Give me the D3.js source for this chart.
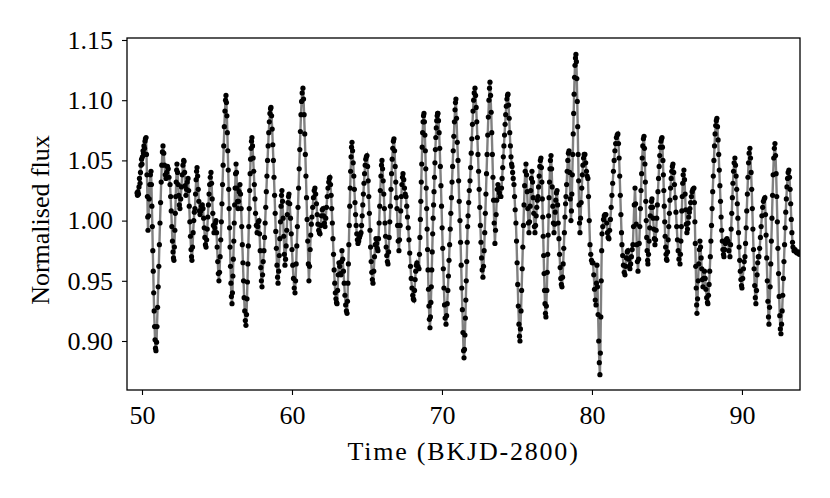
<!DOCTYPE html>
<html><head><meta charset="utf-8">
<script src="https://cdn.jsdelivr.net/npm/d3@7"></script>
<style>body{margin:0;background:#fff} svg{display:block} text{font-family:"Liberation Serif","DejaVu Serif",serif;fill:#000}</style>
</head><body><svg id="chart" width="830" height="498"></svg>
<script>
const xTicks = [50, 60, 70, 80, 90];
const yTicks = [0.90, 0.95, 1.00, 1.05, 1.10, 1.15];
const xLabel = "Time (BKJD-2800)";
const yLabel = "Normalised flux";

const timeDays = [
49.67,49.70,49.73,49.77,49.80,49.83,49.87,49.90,49.93,49.97,50.00,50.03,50.07,50.10,50.13,50.17,50.20,50.23,50.27,
50.30,50.33,50.36,50.38,50.40,
50.44,50.48,50.52,50.56,50.60,
50.63,50.66,50.69,50.72,50.75,50.78,50.81,50.84,50.87,50.90,50.93,
50.97,51.00,51.04,51.08,51.12,51.16,51.20,51.24,51.28,51.32,51.36,51.40,
51.45,51.50,51.55,51.60,51.65,51.70,51.75,51.80,51.87,
51.91,51.95,51.99,52.03,52.07,52.10,52.13,
52.16,52.19,52.22,52.25,52.28,52.31,52.33,
52.37,52.41,52.45,52.49,52.53,52.58,52.63,52.68,52.73,52.78,52.80,52.84,52.88,52.93,52.97,53.02,53.07,
53.11,53.15,53.19,53.23,53.27,53.30,53.33,
53.37,53.41,53.45,53.49,53.53,53.57,53.61,53.64,53.67,53.71,53.75,53.79,53.83,53.87,53.92,53.97,54.02,54.07,54.11,54.15,54.19,54.23,54.27,
54.31,54.35,54.39,54.43,54.47,54.51,54.55,54.60,
54.64,54.68,54.72,54.76,54.80,54.85,54.89,54.93,54.97,55.01,55.05,55.09,55.13,
55.17,55.21,55.25,55.29,55.33,55.37,55.41,55.45,55.49,55.53,55.57,55.60,
55.63,55.66,55.69,55.72,55.75,55.78,55.81,55.84,55.87,55.90,55.93,55.96,56.00,
56.03,56.06,56.09,56.12,56.15,56.18,56.21,56.24,56.27,56.30,56.34,56.37,56.40,56.44,56.48,56.53,
56.57,56.61,56.65,56.69,56.73,56.77,56.81,56.85,56.89,56.93,
56.97,57.00,57.03,57.06,57.09,57.12,57.15,57.18,57.21,57.24,57.27,57.30,57.33,
57.37,57.41,57.45,57.49,57.53,57.57,57.62,57.67,57.72,57.76,57.80,57.84,57.88,57.92,57.96,58.00,
58.04,58.08,58.13,58.17,58.21,58.25,58.29,58.33,58.37,58.41,58.45,58.49,58.53,58.57,58.60,
58.64,58.68,58.72,58.76,58.80,58.84,58.88,58.92,58.96,59.00,59.04,59.07,
59.11,59.15,59.19,59.23,59.27,59.30,59.33,59.37,59.41,59.45,59.49,59.53,59.57,59.61,59.65,59.69,59.73,59.77,59.80,59.85,59.90,59.95,60.00,60.05,60.10,60.15,60.20,
60.24,60.28,60.32,60.36,60.40,60.44,60.48,60.52,60.56,60.60,60.64,60.68,60.73,
60.77,60.81,60.85,60.89,60.93,60.97,61.01,61.05,61.09,61.13,
61.17,61.21,61.25,61.29,61.33,61.38,61.43,61.48,61.53,61.58,61.63,61.68,61.73,61.78,61.83,61.87,61.92,61.97,62.02,62.07,62.11,62.16,62.20,62.25,62.30,62.35,62.40,62.45,62.49,62.53,
62.57,62.61,62.65,62.69,62.73,62.77,62.81,62.85,62.89,62.93,62.97,63.00,
63.04,63.08,63.13,63.18,63.23,63.27,63.30,63.33,63.38,63.43,63.48,63.53,63.58,63.63,63.67,
63.70,63.73,63.76,63.79,63.82,63.85,63.88,63.91,63.94,63.97,64.00,
64.04,64.08,64.12,64.16,64.20,64.24,64.28,64.32,64.36,64.40,64.45,64.50,64.55,64.60,
64.64,64.68,64.72,64.76,64.80,64.84,64.88,64.92,64.96,65.00,
65.04,65.08,65.12,65.16,65.20,65.24,65.28,65.32,65.36,65.40,65.45,65.50,65.55,65.60,65.65,65.69,65.73,
65.77,65.81,65.85,65.89,65.93,65.97,66.00,
66.04,66.08,66.12,66.16,66.20,66.24,66.28,66.32,66.36,66.40,
66.44,66.48,66.52,66.56,66.60,66.64,66.68,66.72,66.76,66.80,
66.84,66.88,66.92,66.96,67.00,67.04,67.08,67.13,67.17,67.21,67.25,67.29,67.33,67.37,67.40,67.45,67.50,67.55,67.60,
67.65,67.70,67.75,67.80,67.85,67.90,67.95,68.00,68.05,68.09,68.13,
68.17,68.21,68.25,68.29,68.33,68.40,68.47,68.50,68.53,68.56,68.59,68.62,68.65,68.68,68.71,68.74,68.77,68.80,
68.83,68.86,68.89,68.92,68.95,68.98,69.01,69.04,69.07,69.10,69.13,69.16,69.20,
69.23,69.26,69.29,69.32,69.35,69.38,69.41,69.44,69.47,69.50,69.53,69.56,69.59,69.62,69.65,69.68,69.71,69.73,
69.77,69.81,69.85,69.89,69.93,69.97,70.01,70.05,70.09,70.13,70.17,70.21,70.27,
70.31,70.35,70.39,70.43,70.47,70.51,70.55,70.59,70.63,70.67,70.71,70.75,70.79,70.83,70.87,70.90,70.93,
70.97,71.02,71.07,71.11,71.15,71.20,71.24,71.28,71.32,71.36,71.40,71.44,71.47,
71.50,71.53,71.56,71.59,71.62,71.65,71.68,71.71,71.74,71.78,71.82,71.87,71.91,71.95,71.99,72.03,72.07,72.11,72.15,72.20,
72.24,72.28,72.32,72.36,72.40,72.44,72.48,72.52,72.56,72.60,72.64,72.68,72.73,
72.77,72.81,72.85,72.89,72.93,72.97,73.01,73.05,73.09,73.13,73.17,73.20,
73.24,73.28,73.32,73.36,73.40,73.44,73.48,73.53,73.57,73.61,73.65,73.69,73.73,73.78,73.83,73.88,73.93,
73.97,74.01,74.05,74.09,74.13,74.17,74.21,74.25,74.29,74.33,74.37,74.40,
74.44,74.48,74.52,74.56,74.60,74.64,74.67,74.71,74.75,74.80,74.84,74.88,74.93,74.97,75.01,75.05,75.09,75.13,75.17,75.20,
75.23,75.27,75.31,75.35,75.39,75.43,75.47,75.51,75.55,75.60,75.64,75.68,75.72,75.76,75.80,75.84,75.88,75.92,75.96,76.00,76.04,76.08,76.12,76.16,76.20,76.24,76.28,76.32,76.36,76.40,76.44,76.48,76.52,76.56,76.60,
76.63,76.66,76.69,76.72,76.75,76.78,76.81,76.84,76.87,76.90,76.93,
76.96,76.99,77.02,77.05,77.08,77.11,77.14,77.17,77.20,77.23,77.27,
77.31,77.35,77.39,77.43,77.47,77.51,77.55,77.59,77.63,77.67,77.71,77.75,77.80,77.84,77.88,77.92,77.96,78.00,
78.04,78.08,78.12,78.16,78.20,78.24,78.27,78.31,78.35,78.39,78.43,78.47,78.51,78.55,78.60,78.63,78.66,78.69,78.72,78.75,78.78,78.81,78.84,78.87,78.90,78.93,
78.96,78.99,79.02,79.05,79.08,79.11,79.14,79.17,79.20,
79.24,79.28,79.32,79.36,79.40,79.44,79.48,79.53,79.58,79.63,79.68,79.73,79.77,79.82,79.87,79.92,79.97,80.02,80.07,80.12,80.17,80.22,80.27,80.30,80.33,80.37,80.41,80.45,80.49,80.53,
80.56,80.59,80.62,80.65,80.67,80.72,80.77,80.82,80.87,80.93,80.98,81.03,81.08,81.13,81.18,81.23,81.28,81.33,81.38,81.43,81.48,81.53,81.58,81.63,81.68,81.73,
81.77,81.81,81.85,81.89,81.93,81.97,82.00,82.05,82.10,82.15,82.20,82.25,82.30,82.35,82.40,82.45,82.49,82.53,82.58,82.63,82.68,82.73,82.77,82.82,82.87,82.91,82.95,82.99,83.03,83.07,
83.11,83.15,83.19,83.23,83.27,83.31,83.35,83.39,83.43,83.47,
83.50,83.53,83.56,83.59,83.62,83.65,83.68,83.71,83.73,83.77,83.81,83.85,83.89,83.93,83.97,84.00,84.04,84.08,84.12,84.16,84.20,
84.24,84.28,84.32,84.36,84.40,84.44,84.48,84.52,84.56,84.60,84.64,84.67,
84.70,84.73,84.76,84.79,84.82,84.85,84.88,84.91,84.94,84.97,85.00,
85.04,85.08,85.12,85.16,85.20,85.24,85.28,85.32,85.36,85.40,
85.45,85.50,85.55,85.60,85.65,85.70,85.75,85.80,85.87,
85.90,85.93,85.96,85.99,86.02,86.05,86.08,86.13,86.17,86.21,86.25,86.29,86.33,86.37,86.41,86.45,86.49,86.53,86.58,86.63,86.68,86.73,86.80,
86.83,86.86,86.89,86.92,86.95,86.98,87.00,87.04,87.08,87.12,87.16,87.20,87.24,87.28,87.32,87.36,87.40,87.45,87.50,87.55,87.60,87.65,87.70,87.73,
87.77,87.81,87.85,87.89,87.93,87.97,88.01,88.05,88.09,88.13,88.17,88.21,88.25,88.29,88.33,
88.37,88.41,88.45,88.49,88.53,88.57,88.61,88.65,88.69,88.73,88.77,88.80,88.85,88.90,88.95,89.00,89.07,89.13,89.20,89.24,89.28,89.32,89.36,89.40,89.44,89.48,89.53,
89.57,89.61,89.65,89.69,89.73,89.77,89.81,89.85,89.89,89.93,89.97,90.00,90.05,90.10,90.15,90.20,90.24,90.28,90.32,90.36,90.40,90.44,90.48,90.53,
90.57,90.61,90.65,90.69,90.73,90.77,90.81,90.85,90.89,90.93,90.97,91.01,91.05,91.09,91.13,91.18,91.23,91.28,91.33,91.38,91.43,91.48,91.53,91.57,91.61,91.65,91.69,91.73,91.77,91.80,
91.84,91.88,91.92,91.96,92.00,92.04,92.08,92.12,92.16,92.20,
92.24,92.28,92.32,92.36,92.40,92.44,92.48,92.52,92.56,92.60,
92.64,92.68,92.72,92.76,92.80,92.84,92.88,92.92,92.96,93.00,93.04,93.08,93.13,93.17,93.21,93.25,93.29,93.33,93.37,93.40,93.47,93.54,93.61,93.68,93.75,93.82,93.90
];

const fluxValues = [
1.023,1.021,1.024,1.022,1.028,1.035,1.031,1.040,1.046,1.051,1.047,1.053,1.058,1.056,1.062,1.060,1.066,1.068,1.069,
1.055,1.038,1.020,1.003,0.992,
1.004,1.018,1.030,1.038,1.041,
1.030,1.012,0.995,0.975,0.958,0.940,0.925,0.912,0.901,0.894,0.892,
0.899,0.912,0.928,0.945,0.962,0.980,0.998,1.015,1.032,1.046,1.057,1.062,
1.056,1.046,1.038,1.035,1.040,1.045,1.043,1.036,1.030,
1.020,1.008,0.995,0.983,0.974,0.969,0.967,
0.978,0.992,1.006,1.020,1.032,1.042,1.047,
1.040,1.030,1.021,1.013,1.010,1.018,1.028,1.038,1.046,1.050,1.049,1.040,1.029,1.021,1.026,1.032,1.035,
1.025,1.012,0.999,0.987,0.976,0.970,0.967,
0.978,0.990,1.000,1.007,1.010,1.022,1.034,1.041,1.044,1.037,1.026,1.016,1.008,1.005,1.008,1.012,1.013,1.010,1.002,0.994,0.986,0.980,0.978,
0.984,0.993,1.003,1.013,1.022,1.030,1.036,1.040,
1.031,1.018,1.006,0.996,0.990,0.994,0.998,1.000,0.990,0.978,0.966,0.956,0.950,
0.957,0.970,0.984,0.999,1.014,1.030,1.046,1.062,1.078,1.091,1.100,1.104,
1.098,1.087,1.073,1.058,1.042,1.026,1.010,0.994,0.978,0.962,0.948,0.937,0.931,
0.940,0.954,0.968,0.983,0.998,1.013,1.027,1.039,1.047,1.040,1.027,1.016,1.010,1.016,1.024,1.030,
1.022,1.010,0.995,0.980,0.965,0.950,0.936,0.925,0.917,0.913,
0.922,0.935,0.949,0.964,0.979,0.995,1.010,1.025,1.039,1.051,1.060,1.066,1.069,
1.062,1.052,1.041,1.030,1.018,1.006,0.996,0.990,0.995,0.999,1.000,0.989,0.975,0.961,0.950,0.945,
0.955,0.966,0.975,0.986,0.998,1.011,1.024,1.037,1.050,1.062,1.073,1.082,1.089,1.093,1.094,
1.087,1.076,1.063,1.050,1.036,1.021,1.006,0.991,0.977,0.963,0.953,0.948,
0.958,0.971,0.985,0.999,1.012,1.021,1.025,1.016,1.002,0.987,0.972,0.963,0.968,0.979,0.992,1.005,1.015,1.020,1.022,1.014,1.002,0.989,0.976,0.963,0.952,0.944,0.940,
0.950,0.964,0.979,0.995,1.011,1.027,1.043,1.059,1.074,1.088,1.099,1.106,1.110,
1.101,1.088,1.072,1.055,1.037,1.019,1.001,0.983,0.964,0.950,
0.962,0.976,0.988,0.997,1.003,1.011,1.019,1.025,1.027,1.022,1.014,1.005,0.997,0.992,0.990,0.989,0.996,1.004,1.009,1.010,1.004,0.998,0.995,1.002,1.011,1.020,1.027,1.032,1.035,1.036,
1.030,1.021,1.010,0.998,0.985,0.972,0.959,0.948,0.940,0.935,0.932,0.931,
0.942,0.955,0.965,0.962,0.956,0.955,0.966,0.975,0.968,0.958,0.948,0.938,0.930,0.925,0.923,
0.933,0.948,0.964,0.980,0.996,1.012,1.027,1.041,1.053,1.061,1.065,
1.058,1.048,1.037,1.026,1.015,1.005,0.996,0.989,0.984,0.981,0.983,0.986,0.988,0.990,
0.996,1.004,1.013,1.022,1.031,1.039,1.046,1.051,1.053,1.054,
1.045,1.033,1.020,1.006,0.992,0.978,0.966,0.957,0.951,0.948,0.958,0.970,0.980,0.985,0.981,0.977,0.975,
0.985,0.998,1.012,1.025,1.037,1.046,1.050,
1.043,1.033,1.022,1.010,0.998,0.987,0.978,0.971,0.966,0.964,
0.974,0.986,0.999,1.012,1.026,1.039,1.051,1.060,1.066,1.068,
1.058,1.045,1.032,1.019,1.010,0.996,0.983,0.975,0.984,0.996,1.008,1.020,1.030,1.036,1.039,1.034,1.027,1.022,1.020,
1.012,1.003,0.994,0.984,0.973,0.962,0.952,0.944,0.938,0.935,0.934,
0.942,0.951,0.958,0.963,0.965,0.962,0.960,0.972,0.986,1.001,1.016,1.032,1.047,1.061,1.073,1.082,1.087,1.089,
1.082,1.071,1.058,1.043,1.027,1.010,0.993,0.976,0.959,0.943,0.929,0.918,0.911,
0.920,0.932,0.945,0.959,0.974,0.989,1.002,1.013,1.024,1.036,1.048,1.059,1.069,1.077,1.083,1.087,1.089,1.089,
1.083,1.073,1.060,1.045,1.029,1.012,0.994,0.977,0.960,0.944,0.930,0.919,0.914,
0.921,0.931,0.942,0.954,0.967,0.980,0.993,1.006,1.019,1.032,1.045,1.058,1.070,1.082,1.092,1.098,1.101,
1.085,1.065,1.050,1.033,1.016,1.000,0.982,0.963,0.944,0.926,0.907,0.892,0.886,
0.893,0.905,0.919,0.934,0.950,0.966,0.982,0.995,1.004,1.015,1.025,1.033,1.044,1.056,1.068,1.080,1.091,1.100,1.106,1.110,
1.104,1.094,1.082,1.069,1.055,1.041,1.026,1.011,0.996,0.982,0.969,0.959,0.953,
0.962,0.975,0.990,1.006,1.022,1.039,1.055,1.071,1.086,1.100,1.110,1.115,
1.104,1.090,1.073,1.055,1.036,1.017,0.998,0.981,0.992,1.005,1.017,1.026,1.030,1.027,1.023,1.020,1.020,
1.027,1.035,1.044,1.053,1.062,1.071,1.080,1.088,1.095,1.101,1.104,1.105,
1.096,1.085,1.073,1.062,1.053,1.047,1.045,1.040,1.035,1.030,1.020,1.009,0.998,0.983,0.965,0.947,0.929,0.914,0.904,0.900,
0.910,0.925,0.942,0.960,0.978,0.996,1.013,1.029,1.041,1.047,1.038,1.024,1.010,0.998,0.990,0.999,1.012,1.025,1.035,1.041,1.032,1.019,1.006,0.995,0.990,0.996,1.004,1.011,1.017,1.020,1.028,1.037,1.045,1.050,1.052,
1.044,1.032,1.018,1.003,0.987,0.971,0.956,0.942,0.931,0.923,0.920,
0.929,0.942,0.957,0.972,0.988,1.004,1.019,1.032,1.043,1.050,1.054,
1.043,1.028,1.012,0.998,0.990,0.997,1.007,1.017,1.023,1.025,1.013,0.998,0.985,0.972,0.961,0.952,0.947,0.945,
0.953,0.964,0.977,0.990,1.003,1.014,1.020,1.030,1.041,1.050,1.056,1.058,1.040,1.018,1.000,1.008,1.022,1.038,1.055,1.072,1.089,1.105,1.119,1.129,1.135,1.138,
1.132,1.118,1.099,1.078,1.055,1.033,1.013,0.998,0.990,
1.002,1.015,1.027,1.038,1.046,1.052,1.055,1.055,1.048,1.041,1.037,1.035,1.020,1.000,0.980,0.972,0.967,0.965,0.965,0.955,0.943,0.934,0.930,0.948,0.963,0.945,0.922,0.900,0.882,0.872,
0.890,0.920,0.950,0.975,0.989,0.995,1.001,1.004,1.005,1.005,0.998,0.990,0.986,0.985,0.992,1.001,1.011,1.021,1.031,1.041,1.050,1.058,1.064,1.069,1.071,1.072,
1.064,1.052,1.037,1.021,1.005,0.990,0.980,0.971,0.963,0.957,0.955,0.962,0.969,0.974,0.975,0.968,0.962,0.960,0.964,0.970,0.976,0.980,0.995,1.013,1.027,1.014,0.997,0.980,0.966,0.958,
0.968,0.981,0.995,1.010,1.025,1.039,1.052,1.062,1.068,1.070,
1.060,1.047,1.032,1.016,1.000,0.986,0.975,0.967,0.964,0.972,0.983,0.994,1.004,1.011,1.016,1.018,1.011,1.002,0.993,0.985,0.980,
0.984,0.992,1.002,1.013,1.024,1.035,1.045,1.054,1.061,1.066,1.068,1.069,
1.061,1.050,1.038,1.025,1.012,0.999,0.987,0.978,0.972,0.968,0.967,
0.974,0.984,0.995,1.006,1.017,1.027,1.035,1.041,1.045,1.047,
1.040,1.030,1.019,1.007,0.995,0.984,0.975,0.968,0.964,
0.972,0.983,0.995,1.008,1.020,1.031,1.038,1.042,1.034,1.022,1.009,0.997,0.990,0.993,0.998,1.003,1.007,1.010,1.015,1.020,1.024,1.026,1.027,
1.015,0.999,0.981,0.962,0.944,0.930,0.923,0.935,0.950,0.964,0.976,0.983,0.978,0.969,0.960,0.951,0.945,0.952,0.958,0.952,0.943,0.936,0.932,0.931,
0.938,0.947,0.958,0.970,0.983,0.996,1.010,1.024,1.037,1.050,1.062,1.072,1.079,1.083,1.085,
1.078,1.067,1.055,1.042,1.029,1.016,1.003,0.992,0.983,0.976,0.972,0.970,0.976,0.981,0.984,0.985,0.983,0.975,0.970,0.980,0.993,1.006,1.019,1.031,1.041,1.048,1.052,
1.046,1.037,1.026,1.014,1.002,0.990,0.978,0.967,0.958,0.951,0.946,0.944,0.952,0.960,0.966,0.970,0.981,0.994,1.008,1.022,1.036,1.048,1.056,1.060,
1.052,1.040,1.026,1.010,0.993,0.976,0.960,0.946,0.936,0.931,0.942,0.955,0.965,0.970,0.970,0.977,0.986,0.995,1.004,1.011,1.016,1.018,1.019,1.005,0.988,0.969,0.950,0.933,0.920,0.914,
0.928,0.945,0.964,0.983,1.002,1.021,1.038,1.052,1.060,1.064,
1.054,1.039,1.020,0.999,0.977,0.956,0.937,0.921,0.910,0.906,
0.914,0.925,0.938,0.952,0.966,0.980,0.994,1.007,1.018,1.028,1.035,1.040,1.042,1.036,1.026,1.014,1.001,0.990,0.982,0.978,0.975,0.976,0.974,0.973,0.974,0.972,0.973
];

const plot = {left: 127, right: 800, top: 38, bottom: 390};
const svg = d3.select("#chart");

const x = d3.scaleLinear().domain([49.0, 93.87]).range([plot.left, plot.right]);
const y = d3.scaleLinear().domain([0.8593, 1.15166]).range([plot.bottom, plot.top]);

const n = Math.min(timeDays.length, fluxValues.length);
const data = d3.range(n).map(i => ({t: timeDays[i], f: fluxValues[i]}));

svg.append("defs").append("clipPath").attr("id", "clip")
  .append("rect").attr("x", plot.left).attr("y", plot.top)
  .attr("width", plot.right - plot.left).attr("height", plot.bottom - plot.top);

const g = svg.append("g").attr("clip-path", "url(#clip)");
g.append("path").datum(data)
  .attr("fill", "none").attr("stroke", "#808080").attr("stroke-width", 2.4)
  .attr("d", d3.line().x(d => x(d.t)).y(d => y(d.f)));
g.selectAll("circle").data(data).join("circle")
  .attr("cx", d => x(d.t)).attr("cy", d => y(d.f)).attr("r", 2.6).attr("fill", "#000");

const fs = 26;
const xAxis = svg.append("g").attr("transform", `translate(0,${plot.bottom})`)
  .call(d3.axisBottom(x).tickValues(xTicks).tickSize(5).tickPadding(11).tickFormat(d3.format("d")));
const yAxis = svg.append("g").attr("transform", `translate(${plot.left},0)`)
  .call(d3.axisLeft(y).tickValues(yTicks).tickSize(5).tickPadding(9).tickFormat(d3.format(".2f")));
[xAxis, yAxis].forEach(a => {
  a.select(".domain").remove();
  a.selectAll("line").attr("stroke", "#000").attr("stroke-width", 1.1);
  a.selectAll("text").style("font-size", fs + "px").style("font-family", '"Liberation Serif", serif').attr("fill", "#000");
});

svg.append("rect").attr("x", plot.left).attr("y", plot.top)
  .attr("width", plot.right - plot.left).attr("height", plot.bottom - plot.top)
  .attr("fill", "none").attr("stroke", "#000").attr("stroke-width", 1.3);

svg.append("text").attr("x", (plot.left + plot.right) / 2).attr("y", 460)
  .attr("text-anchor", "middle").style("font-size", fs + "px").style("letter-spacing", "1.8px").text(xLabel);
svg.append("text").attr("transform", `translate(49,220) rotate(-90)`)
  .attr("text-anchor", "middle").style("font-size", fs + "px").text(yLabel);
</script></body></html>
